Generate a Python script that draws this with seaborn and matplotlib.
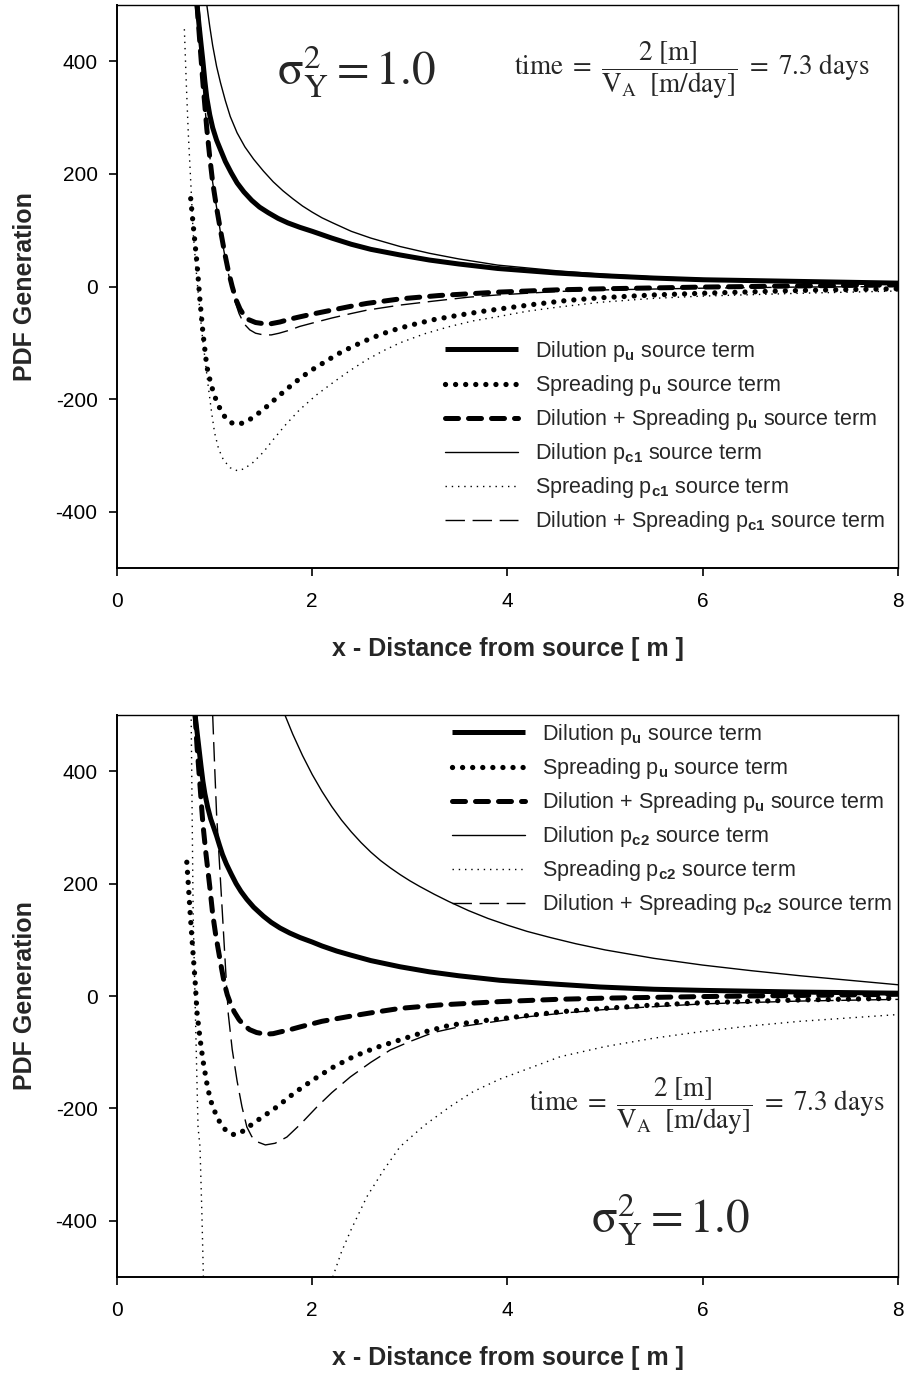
import numpy as np
import pandas as pd
import matplotlib
matplotlib.use("Agg")
import matplotlib.pyplot as plt
import seaborn as sns

# ---------------- data ----------------
# Top panel (pu and pc1 source terms)
top_dil_pu_x = [0.82, 0.84, 0.86, 0.88, 0.90, 0.92, 0.95, 0.98, 1.02, 1.06, 1.11, 1.17, 1.23, 1.30, 1.38, 1.46, 1.55, 1.65, 1.75, 1.875, 2.0, 2.2, 2.4, 2.6, 2.9, 3.2, 3.5, 3.9, 4.5, 5.0, 5.5, 6.0, 7.0, 8.0]
top_dil_pu_y = [500, 465, 432, 400, 365, 335, 305, 282, 260, 243, 222, 202, 184, 168, 153, 141, 131, 121, 113, 105, 98, 86, 75, 66, 56, 47, 40, 32, 24, 19, 15, 12, 9, 6]

top_spr_pu_x = [0.755, 0.78, 0.80, 0.82, 0.85, 0.88, 0.92, 0.96, 1.00, 1.05, 1.09, 1.13, 1.17, 1.24, 1.33, 1.45, 1.55, 1.64, 1.74, 1.84, 1.97, 2.11, 2.26, 2.42, 2.6, 2.8, 3.0, 3.24, 3.5, 3.75, 4.0, 4.26, 4.6, 4.95, 5.5, 6.0, 7.0, 8.0]
top_spr_pu_y = [156, 110, 75, 40, -25, -82, -142, -172, -195, -215, -228, -237, -242, -245, -240, -225, -211, -197, -182, -168, -151, -136, -120, -106, -92, -79, -69, -59, -51, -44, -38, -32, -25, -20, -15, -12, -7, -4]

top_ds_pu_x = [0.82, 0.85, 0.88, 0.92, 0.95, 0.98, 1.02, 1.06, 1.10, 1.14, 1.18, 1.22, 1.26, 1.30, 1.35, 1.42, 1.50, 1.58, 1.67, 1.77, 1.87, 2.0, 2.2, 2.4, 2.56, 2.9, 3.3, 3.9, 4.5, 5.0, 6.0, 7.0, 8.0]
top_ds_pu_y = [500, 430, 362, 280, 230, 185, 140, 100, 62, 28, 0, -24, -40, -51, -59, -64, -66, -66, -63, -58, -54, -49, -42, -35, -30, -22, -16, -10, -6, -4, -1, 1, 3]

top_dil_pc_x = [0.92, 0.95, 0.98, 1.02, 1.06, 1.11, 1.16, 1.23, 1.31, 1.40, 1.50, 1.60, 1.70, 1.80, 1.90, 2.0, 2.1, 2.21, 2.4, 2.6, 2.9, 3.2, 3.5, 3.9, 4.5, 4.95, 5.5, 6.0, 7.0, 8.0]
top_dil_pc_y = [500, 462, 428, 391, 362, 330, 302, 273, 248, 226, 205, 186, 170, 156, 143, 132, 122, 113, 98, 86, 71, 59, 49, 38, 28, 22, 17, 14, 10, 7]

top_spr_pc_x = [0.69, 0.71, 0.73, 0.76, 0.78, 0.82, 0.87, 0.93, 0.97, 1.00, 1.04, 1.09, 1.16, 1.23, 1.30, 1.39, 1.5, 1.6, 1.73, 1.87, 2.04, 2.21, 2.38, 2.56, 2.73, 2.9, 3.15, 3.41, 3.65, 3.92, 4.2, 4.5, 4.95, 5.5, 6.0, 7.0, 8.0]
top_spr_pc_y = [457, 360, 273, 170, 96, 10, -82, -171, -225, -260, -288, -308, -322, -327, -324, -313, -294, -272, -245, -219, -193, -171, -150, -130, -114, -100, -84, -71, -61, -53, -44, -37, -28, -21, -17, -12, -8]

top_ds_pc_x = [0.83, 0.88, 0.92, 0.98, 1.06, 1.12, 1.16, 1.20, 1.25, 1.30, 1.36, 1.42, 1.50, 1.58, 1.66, 1.76, 1.87, 2.0, 2.2, 2.4, 2.56, 2.9, 3.24, 3.6, 3.9, 4.5, 5.0, 6.0, 7.0, 8.0]
top_ds_pc_y = [500, 362, 280, 185, 96, 40, 8, -22, -48, -66, -77, -83, -86, -86, -83, -78, -71, -65, -56, -48, -42, -33, -26, -19, -15, -9, -6, -3, -1, 0]

# Bottom panel (pu and pc2 source terms)
bot_dil_pu_x = [0.80, 0.82, 0.84, 0.86, 0.88, 0.90, 0.93, 0.96, 0.98, 1.02, 1.05, 1.08, 1.12, 1.17, 1.22, 1.27, 1.33, 1.40, 1.50, 1.58, 1.67, 1.77, 1.875, 2.0, 2.1, 2.25, 2.39, 2.6, 2.9, 3.2, 3.5, 3.92, 4.5, 4.95, 5.5, 6.0, 7.0, 8.0]
bot_dil_pu_y = [500, 470, 440, 410, 382, 360, 335, 315, 305, 285, 268, 252, 235, 217, 200, 186, 172, 158, 142, 131, 121, 112, 104, 96, 89, 80, 73, 63, 52, 43, 36, 28, 21, 16, 12, 10, 7, 5]

bot_spr_pu_x = [0.715, 0.73, 0.75, 0.775, 0.80, 0.82, 0.85, 0.88, 0.92, 0.95, 0.98, 1.02, 1.06, 1.11, 1.16, 1.21, 1.27, 1.33, 1.45, 1.55, 1.64, 1.82, 2.01, 2.2, 2.42, 2.65, 2.9, 3.15, 3.41, 3.75, 4.10, 4.54, 5.0, 5.5, 6.0, 7.0, 8.0]
bot_spr_pu_y = [238, 200, 146, 85, 27, -30, -75, -114, -155, -180, -197, -213, -227, -238, -245, -247, -243, -235, -220, -208, -197, -172, -149, -128, -108, -92, -78, -64, -52, -44, -37, -28, -22, -16, -12, -7, -4]

bot_ds_pu_x = [0.80, 0.82, 0.85, 0.88, 0.91, 0.95, 0.98, 1.01, 1.04, 1.07, 1.10, 1.13, 1.16, 1.20, 1.25, 1.30, 1.36, 1.43, 1.52, 1.60, 1.67, 1.77, 1.875, 2.1, 2.39, 2.6, 2.9, 3.3, 3.92, 4.5, 4.95, 6.0, 7.0, 8.0]
bot_ds_pu_y = [500, 443, 375, 306, 255, 195, 146, 110, 80, 50, 22, 2, -12, -28, -42, -52, -60, -65, -68, -67, -64, -60, -55, -45, -36, -30, -22, -16, -10, -6, -4, -1, 1, 3]

bot_dil_pc_x = [1.72, 1.80, 1.90, 2.00, 2.10, 2.20, 2.30, 2.40, 2.50, 2.60, 2.70, 2.80, 2.90, 3.00, 3.10, 3.25, 3.40, 3.60, 3.80, 4.00, 4.20, 4.44, 4.70, 5.00, 5.50, 6.00, 6.50, 7.00, 7.50, 8.00]
bot_dil_pc_y = [500, 466, 428, 394, 364, 337, 313, 292, 273, 256, 241, 228, 216, 205, 195, 181, 168, 152, 138, 126, 115, 104, 93, 82, 67, 55, 45, 36, 28, 20]

bot_spr_pc_a_x = [0.76, 0.78, 0.80, 0.83, 0.85, 0.87, 0.885]
bot_spr_pc_a_y = [492, 146, -10, -233, -268, -390, -500]
bot_spr_pc_b_x = [2.21, 2.30, 2.40, 2.56, 2.73, 2.90, 3.15, 3.41, 3.65, 3.92, 4.20, 4.54, 5.00, 5.50, 6.00, 6.50, 7.00, 7.50, 8.00]
bot_spr_pc_b_y = [-500, -455, -415, -357, -310, -268, -230, -197, -170, -148, -130, -108, -90, -75, -63, -53, -45, -39, -33]

bot_ds_pc_x = [0.98, 1.00, 1.02, 1.05, 1.08, 1.11, 1.14, 1.18, 1.23, 1.28, 1.33, 1.38, 1.43, 1.52, 1.62, 1.74, 1.88, 2.05, 2.2, 2.39, 2.6, 2.8, 3.0, 3.24, 3.5, 3.7, 4.2, 4.6, 5.0, 6.0, 7.0, 8.0]
bot_ds_pc_y = [500, 410, 324, 235, 146, 55, -32, -95, -151, -197, -233, -250, -259, -265, -262, -251, -228, -197, -172, -144, -118, -96, -81, -65, -55, -50, -37, -30, -24, -14, -9, -6]

x_ticks = [0, 2, 4, 6, 8]
y_ticks = [-400, -200, 0, 200, 400]

labels_top = [r"Dilution $\mathrm{p}_{\mathbf{u}}$ source term",
              r"Spreading $\mathrm{p}_{\mathbf{u}}$ source term",
              r"Dilution + Spreading $\mathrm{p}_{\mathbf{u}}$ source term",
              r"Dilution $\mathrm{p}_{\mathbf{c1}}$ source term",
              r"Spreading $\mathrm{p}_{\mathbf{c1}}$ source term",
              r"Dilution + Spreading $\mathrm{p}_{\mathbf{c1}}$ source term"]
labels_bot = [r"Dilution $\mathrm{p}_{\mathbf{u}}$ source term",
              r"Spreading $\mathrm{p}_{\mathbf{u}}$ source term",
              r"Dilution + Spreading $\mathrm{p}_{\mathbf{u}}$ source term",
              r"Dilution $\mathrm{p}_{\mathbf{c2}}$ source term",
              r"Spreading $\mathrm{p}_{\mathbf{c2}}$ source term",
              r"Dilution + Spreading $\mathrm{p}_{\mathbf{c2}}$ source term"]

# ---------------- style ----------------
sns.set_style("ticks")
plt.rcParams['font.family'] = ['Liberation Sans', 'DejaVu Sans']
plt.rcParams['mathtext.fontset'] = 'custom'
plt.rcParams['mathtext.rm'] = 'Liberation Sans'
plt.rcParams['mathtext.it'] = 'Liberation Sans:italic'
plt.rcParams['mathtext.bf'] = 'Liberation Sans:bold'

W, H = 910, 1374
fig = plt.figure(figsize=(W / 100, H / 100), dpi=100)

def ax_rect(l, t, r, b):
    return [l / W, 1 - b / H, (r - l) / W, (b - t) / H]

ax1 = fig.add_axes(ax_rect(117, 5, 898, 568))
ax2 = fig.add_axes(ax_rect(117, 715, 898, 1277))

styles = [
    dict(lw=3.6, linestyle='-', solid_capstyle='butt', solid_joinstyle='round'),
    dict(lw=3.8, linestyle=(0, (0.01, 1.9)), dash_capstyle='round'),
    dict(lw=3.6, linestyle=(0, (2.6, 2.0)), dash_capstyle='round'),
    dict(lw=1.0, linestyle='-'),
    dict(lw=1.0, linestyle=(0, (1.0, 3.5))),
    dict(lw=1.0, linestyle=(0, (14, 5.5))),
]

def draw(ax, series, labels):
    for (xs, ys), st, lab in zip(series, styles, labels):
        sns.lineplot(x=xs, y=ys, ax=ax, color='black', estimator=None, sort=False,
                     label=lab, legend=False, **st)

top_series = [(top_dil_pu_x, top_dil_pu_y), (top_spr_pu_x, top_spr_pu_y), (top_ds_pu_x, top_ds_pu_y),
              (top_dil_pc_x, top_dil_pc_y), (top_spr_pc_x, top_spr_pc_y), (top_ds_pc_x, top_ds_pc_y)]
draw(ax1, top_series, labels_top)

bot_series = [(bot_dil_pu_x, bot_dil_pu_y), (bot_spr_pu_x, bot_spr_pu_y), (bot_ds_pu_x, bot_ds_pu_y),
              (bot_dil_pc_x, bot_dil_pc_y), (bot_spr_pc_a_x, bot_spr_pc_a_y), (bot_ds_pc_x, bot_ds_pc_y)]
draw(ax2, bot_series, labels_bot)
sns.lineplot(x=bot_spr_pc_b_x, y=bot_spr_pc_b_y, ax=ax2, color='black', estimator=None, sort=False,
             legend=False, **styles[4])

for ax in (ax1, ax2):
    ax.set_xlim(0, 8)
    ax.set_ylim(-500, 500)
    ax.set_xticks(x_ticks)
    ax.set_yticks(y_ticks)
    ax.set_xticklabels([str(v) for v in x_ticks])
    ax.set_yticklabels([str(v) for v in y_ticks])
    ax.tick_params(direction='out', length=6, width=1.2, labelsize=15, color='black',
                   labelcolor='black')
    ax.tick_params(axis='x', pad=11)
    ax.tick_params(axis='y', pad=8)
    for name, s in ax.spines.items():
        s.set_visible(True)
        s.set_color('black')
        s.set_linewidth(1.4 if name in ('left', 'bottom') else 1.0)
    ax.set_xlabel("x - Distance from source [ m ]", fontsize=18, fontweight='bold')
    ax.set_ylabel("PDF Generation", fontsize=18, fontweight='bold')
    ax.xaxis.set_label_coords(0.5, -0.122)
    ax.yaxis.set_label_coords(-0.103, 0.5)
    ax.grid(False)

# legends
def add_legend(ax, x_px, y_px):
    h, l = ax.get_legend_handles_labels()
    ax.legend(h[:6], l[:6], loc='upper left', bbox_to_anchor=(x_px / W, 1 - y_px / H),
              bbox_transform=fig.transFigure, frameon=False, fontsize=15.5,
              handlelength=3.4, handletextpad=0.79, labelspacing=0.42,
              borderpad=0, borderaxespad=0)

add_legend(ax1, 445, 339)
add_legend(ax2, 452, 722)

# annotations
sig = r"$\mathrm{\sigma}_{\mathrm{Y}}^{2} = \mathrm{1.0}$"
tim = r"$\mathrm{time}\ =\ \dfrac{2\ [\mathrm{m}]}{\mathrm{V}_{\mathrm{A}}\ \ [\mathrm{m/day}]}\ =\ \mathrm{7.3\ days}$"
fig.text(356 / W, 1 - 72 / H, sig, ha='center', va='center', fontsize=34, math_fontfamily='stix')
fig.text(692 / W, 1 - 70 / H, tim, ha='center', va='center', fontsize=19.5, math_fontfamily='stix')
fig.text(707 / W, 1 - 1106 / H, tim, ha='center', va='center', fontsize=19.5, math_fontfamily='stix')
fig.text(670 / W, 1 - 1220 / H, sig, ha='center', va='center', fontsize=34, math_fontfamily='stix')

fig.savefig("out.png", dpi=100)
